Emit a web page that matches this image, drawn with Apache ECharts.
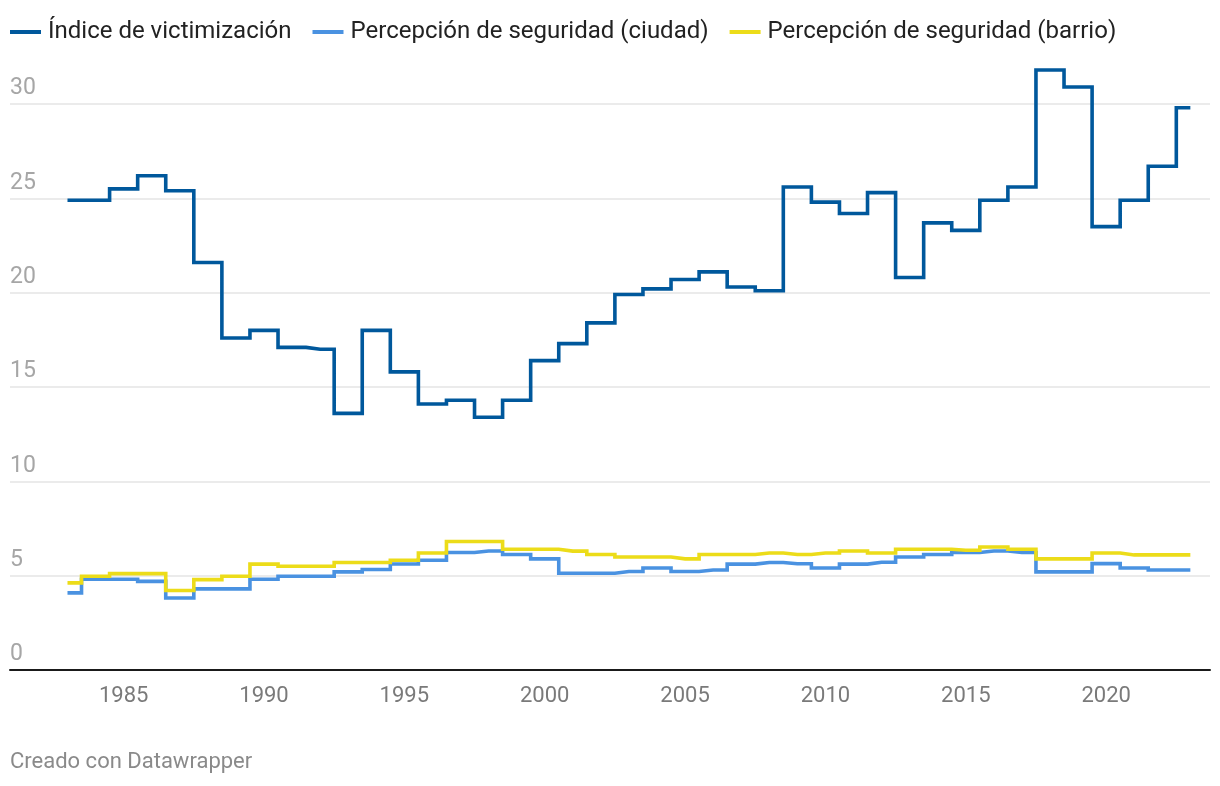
<!DOCTYPE html>
<html>
<head>
<meta charset="utf-8">
<script src="https://cdn.jsdelivr.net/npm/echarts@6/dist/echarts.min.js"></script>
<style>
  html, body { margin: 0; padding: 0; background: #ffffff; }
  #chart { width: 1220px; height: 786px; }
</style>
</head>
<body>
<div id="chart"></div>
<script>
// ---- Data ----
const years = [1983,1984,1985,1986,1987,1988,1989,1990,1991,1992,1993,1994,1995,1996,1997,1998,1999,2000,2001,2002,2003,2004,2005,2006,2007,2008,2009,2010,2011,2012,2013,2014,2015,2016,2017,2018,2019,2020,2021,2022,2023];

const victimizacion = [24.9,24.9,25.5,26.2,25.4,21.6,17.6,18.0,17.1,17.0,13.6,18.0,15.8,14.1,14.3,13.4,14.3,16.4,17.3,18.4,19.9,20.2,20.7,21.1,20.3,20.1,25.6,24.8,24.2,25.3,20.8,23.7,23.3,24.9,25.6,31.8,30.9,23.5,24.9,26.7,29.8];

const ciudad = [4.09,4.81,4.81,4.70,3.82,4.30,4.30,4.81,4.97,4.97,5.20,5.33,5.62,5.82,6.23,6.31,6.12,5.89,5.13,5.13,5.22,5.41,5.22,5.30,5.61,5.70,5.63,5.41,5.61,5.71,5.99,6.12,6.23,6.31,6.23,5.20,5.20,5.64,5.41,5.30,5.30];

const barrio = [4.62,4.97,5.11,5.11,4.21,4.79,4.97,5.61,5.50,5.50,5.70,5.70,5.82,6.20,6.81,6.81,6.40,6.40,6.30,6.12,5.99,5.99,5.89,6.12,6.12,6.20,6.12,6.20,6.31,6.20,6.40,6.40,6.35,6.52,6.40,5.89,5.89,6.20,6.10,6.10,6.10];

const seriesNames = ['Índice de victimización', 'Percepción de seguridad (ciudad)', 'Percepción de seguridad (barrio)'];
const xTickLabels = [1985, 1990, 1995, 2000, 2005, 2010, 2015, 2020];
const footerText = 'Creado con Datawrapper';

// ---- Chart ----
const colors = ['#00589c', '#4a92e1', '#ecdc19'];
const toPairs = (vals) => years.map((y, i) => [y, vals[i]]);

const chart = echarts.init(document.getElementById('chart'), null, { renderer: 'canvas' });

const lineSeries = (name, vals, color) => ({
  name: name,
  type: 'line',
  step: 'middle',
  data: toPairs(vals),
  showSymbol: false,
  symbol: 'none',
  clip: false,
  color: color,
  lineStyle: { color: color, width: 3.6, cap: 'butt', join: 'miter' },
  emphasis: { disabled: true },
  animation: false
});

chart.setOption({
  animation: false,
  textStyle: { fontFamily: 'Roboto' },
  legend: {
    left: 10,
    top: 20,
    padding: 0,
    icon: 'rect',
    itemWidth: 31,
    itemHeight: 4,
    itemGap: 21,
    textStyle: { fontFamily: 'Roboto', fontSize: 24, color: '#222222', padding: [0, 0, 0, 2] },
    data: seriesNames
  },
  grid: { left: 10, right: 10, top: 104, bottom: 116, containLabel: false },
  xAxis: {
    type: 'value',
    min: 1980.952,
    max: 2023.70,
    splitLine: { show: false },
    axisTick: { show: false },
    axisLine: { show: true, onZero: false, lineStyle: { color: '#1a1a1a', width: 2 } },
    axisLabel: {
      customValues: xTickLabels,
      formatter: (v) => String(v),
      fontFamily: 'Roboto',
      fontSize: 22,
      color: '#7a7a7a',
      margin: 15
    }
  },
  yAxis: {
    type: 'value',
    min: 0,
    max: 30,
    interval: 5,
    axisLine: { show: false },
    axisTick: { show: false },
    splitLine: { show: true, lineStyle: { color: '#e4e4e4', width: 1.5 } },
    axisLabel: {
      inside: true,
      margin: 0,
      align: 'left',
      verticalAlign: 'bottom',
      padding: [0, 0, 4, 0],
      fontFamily: 'Roboto',
      fontSize: 23,
      color: '#a6a6a6'
    }
  },
  series: [
    lineSeries(seriesNames[0], victimizacion, colors[0]),
    lineSeries(seriesNames[1], ciudad, colors[1]),
    lineSeries(seriesNames[2], barrio, colors[2])
  ],
  graphic: [{
    type: 'text',
    left: 10,
    top: 751,
    style: { text: footerText, font: '22px Roboto', fill: '#8a8a8a' }
  }]
});
</script>
</body>
</html>
